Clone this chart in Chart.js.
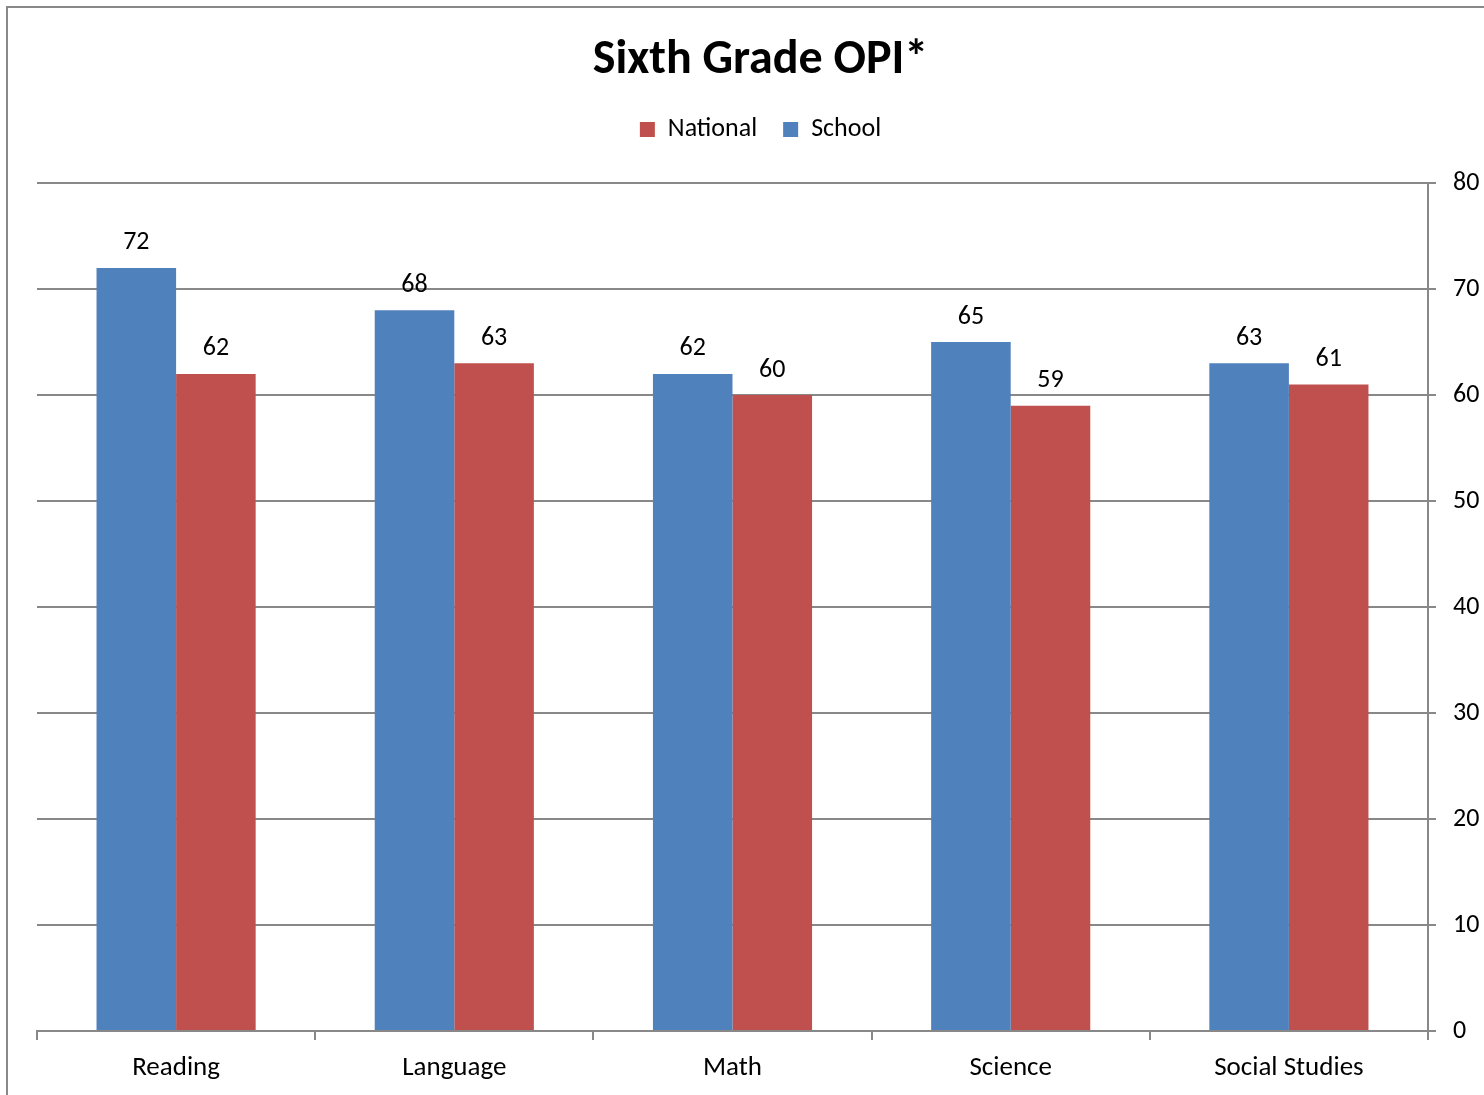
<!DOCTYPE html>
<html>
<head>
<meta charset="utf-8">
<script src="https://cdn.jsdelivr.net/npm/chart.js@4.4.1/dist/chart.umd.min.js"></script>
<style>
html,body{margin:0;padding:0;background:#fff;}
#wrap{width:1484px;height:1095px;position:relative;}
</style>
</head>
<body>
<div id="wrap"><canvas id="c" width="1484" height="1095"></canvas></div>
<script>
const categories = ['Reading', 'Language', 'Math', 'Science', 'Social Studies'];
const schoolValues = [72, 68, 62, 65, 63];
const nationalValues = [62, 63, 60, 59, 61];
const yTicks = [0, 10, 20, 30, 40, 50, 60, 70, 80];

const FONT = 'Carlito, Calibri, Lato, sans-serif';
const GRID = '#888888';

const frame = {
  id: 'frame',
  beforeDraw(chart) {
    const ctx = chart.ctx;
    ctx.save();
    ctx.fillStyle = '#fff';
    ctx.fillRect(0, 0, chart.width, chart.height);
    ctx.strokeStyle = GRID;
    ctx.lineWidth = 2;
    ctx.strokeRect(7, 7, chart.width + 20, chart.height + 20);
    ctx.restore();
  }
};

const valueLabels = {
  id: 'valueLabels',
  afterDatasetsDraw(chart) {
    const ctx = chart.ctx;
    ctx.save();
    ctx.font = '26px ' + FONT;
    ctx.fillStyle = '#000';
    ctx.textAlign = 'center';
    ctx.textBaseline = 'middle';
    chart.data.datasets.forEach((ds, i) => {
      chart.getDatasetMeta(i).data.forEach((bar, j) => {
        ctx.fillText(String(ds.data[j]), bar.x, bar.y - 25);
      });
    });
    ctx.restore();
  }
};

new Chart(document.getElementById('c'), {
  type: 'bar',
  data: {
    labels: categories,
    datasets: [
      { label: 'School', data: schoolValues, backgroundColor: '#4F81BD', borderWidth: 0 },
      { label: 'National', data: nationalValues, backgroundColor: '#C0504D', borderWidth: 0 }
    ]
  },
  options: {
    responsive: false,
    animation: false,
    devicePixelRatio: 1,
    layout: { padding: { left: 37, right: 0, top: 0, bottom: 0 } },
    datasets: { bar: { categoryPercentage: 0.572, barPercentage: 1.0 } },
    plugins: {
      title: {
        display: true,
        text: 'Sixth Grade OPI*',
        color: '#000',
        font: { family: FONT, size: 48, weight: 'bold', lineHeight: 1.2 },
        padding: { top: 32, bottom: 1 }
      },
      subtitle: {
        display: true,
        text: '',
        weight: 0,
        font: { size: 1, lineHeight: 1 },
        padding: { top: 29.5, bottom: 0 }
      },
      legend: {
        display: true,
        position: 'top',
        reverse: true,
        labels: {
          color: '#000',
          font: { family: FONT, size: 26 },
          boxWidth: 15,
          boxHeight: 15,
          padding: 26
        }
      },
      tooltip: { enabled: false }
    },
    scales: {
      x: {
        position: 'bottom',
        grid: { display: true, drawOnChartArea: false, drawTicks: true, tickLength: 9, color: GRID, lineWidth: 2, offset: true },
        border: { display: true, color: GRID, width: 2 },
        ticks: { color: '#000', font: { family: FONT, size: 27 }, padding: 12, maxRotation: 0 },
        afterFit(scale) { scale.height = 64; }
      },
      y: {
        position: 'right',
        min: 0,
        max: 80,
        afterBuildTicks(scale) { scale.ticks = yTicks.map(v => ({ value: v })); },
        grid: { display: true, drawTicks: true, tickLength: 8, color: GRID, lineWidth: 2 },
        border: { display: true, color: GRID, width: 2 },
        ticks: { color: '#000', font: { family: FONT, size: 26 }, padding: 17 },
        afterFit(scale) { scale.width = 56; }
      }
    }
  },
  plugins: [frame, valueLabels]
});
</script>
</body>
</html>
